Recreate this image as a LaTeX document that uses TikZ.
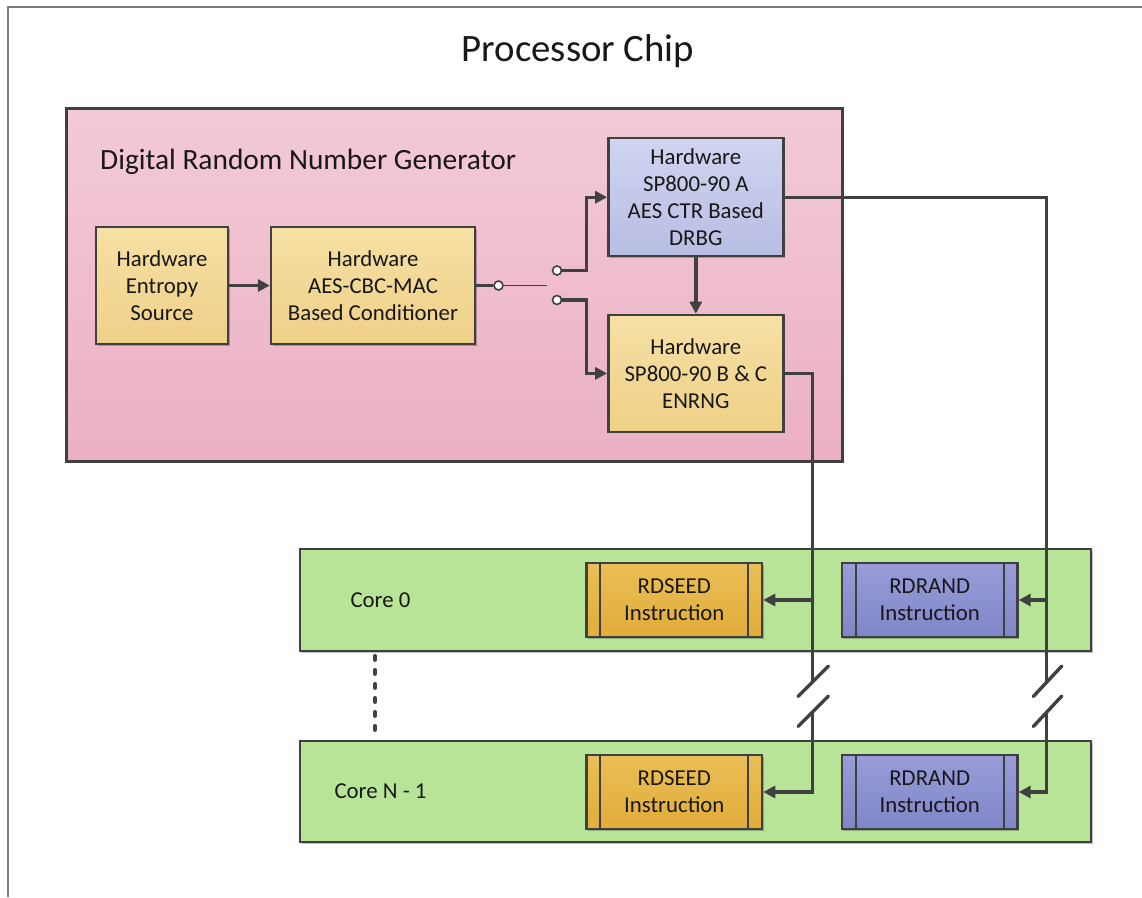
\documentclass[tikz,border=0pt]{standalone}
\usepackage{fontspec}
\setmainfont{Carlito}
\usetikzlibrary{arrows.meta,shadows}

% palette
\definecolor{edge}{RGB}{64,64,64}
\definecolor{ink}{RGB}{24,24,24}
\definecolor{framegray}{RGB}{125,125,125}
\definecolor{pinktop}{RGB}{243,202,214}
\definecolor{pinkbot}{RGB}{235,176,196}
\definecolor{ytop}{RGB}{246,224,164}
\definecolor{ybot}{RGB}{239,208,136}
\definecolor{ltop}{RGB}{208,212,240}
\definecolor{lbot}{RGB}{184,189,227}
\definecolor{coregreen}{RGB}{184,228,151}
\definecolor{gtop}{RGB}{234,190,86}
\definecolor{gbot}{RGB}{225,173,58}
\definecolor{btop}{RGB}{152,157,216}
\definecolor{bbot}{RGB}{128,133,200}

\newcommand{\boxfont}{\fontsize{22.8}{27}\selectfont}
\newcommand{\titlefont}{\fontsize{38.8}{42}\selectfont}
\newcommand{\grpfont}{\fontsize{29.4}{33}\selectfont}

\begin{document}
\begin{tikzpicture}[x=1pt,y=-1pt,
  shade/.style={drop shadow={shadow xshift=1.5pt,shadow yshift=-1.5pt,opacity=0.25,fill=black}},
  blk/.style={draw=edge,line width=2.4pt,inner sep=0pt,align=center,text=ink,font=\boxfont,shade},
  ybox/.style={blk,top color=ytop,bottom color=ybot},
  lbox/.style={blk,top color=ltop,bottom color=lbot},
  gbox/.style={blk,top color=gtop,bottom color=gbot,minimum width=175.5pt,minimum height=74pt},
  bbox/.style={blk,top color=btop,bottom color=bbot,minimum width=175.5pt,minimum height=74pt},
  corebox/.style={draw=edge,line width=2.4pt,fill=coregreen,minimum width=791pt,shade},
  grpbox/.style={draw=edge,line width=3pt,top color=pinktop,bottom color=pinkbot,
    minimum width=776pt,minimum height=353pt,inner sep=0pt,shade},
  port/.style={circle,draw=edge,line width=1.6pt,fill=white,minimum size=9pt,inner sep=0pt},
  conn/.style={draw=edge,line width=3.4pt},
  arr/.style={conn,-{Triangle[length=12pt,width=12pt]}},
  thinwire/.style={draw=edge,line width=1.5pt},
  brk/.style={conn,line cap=round},
  dots/.style={draw=edge,line width=4.5pt,line cap=round,dash pattern=on 3.5pt off 10.5pt},
  frame/.style={draw=framegray,line width=2.5pt},
  lbl/.style={text=ink,inner sep=0pt}
]
\useasboundingbox (0,0) rectangle (1142,897);
\fill[white] (0,0) rectangle (1142,897);

% chip outline (open to the right and bottom)
\draw[frame] (8,897) -- (8,7) -- (1142,7);
\node[lbl,font=\titlefont,anchor=base] (title) at (578,61.5) {Processor Chip};

% DRNG block
\node[grpbox] (drng) at (454,284.5) {};
\node[lbl,font=\grpfont,anchor=base west] (drnglbl) at (100,169) {Digital Random Number Generator};

\node[ybox,minimum width=132pt,minimum height=117pt] (ent) at (162,285.5) {Hardware\\Entropy\\Source};
\node[ybox,minimum width=204pt,minimum height=117pt] (cond) at (373,285.5) {Hardware\\AES-CBC-MAC\\Based Conditioner};
\node[lbox,minimum width=175pt,minimum height=118pt] (drbg) at (695.8,197.2) {Hardware\\SP800-90 A\\AES CTR Based\\DRBG};
\node[ybox,minimum width=175pt,minimum height=117pt] (enr) at (695.8,373.4) {Hardware\\SP800-90 B \& C\\ENRNG};

% switch
\node[port] (p0) at (498.5,285.5) {};
\node[port] (p1) at (557,270.5) {};
\node[port] (p2) at (557,300) {};
\coordinate (swtip) at (547,285.5);
\coordinate (bx) at (586.5,0);

\draw[arr] (ent) -- (cond);
\draw[conn,line width=2.6pt] (cond.east) -- (p0.west);
\draw[thinwire] (p0.east) -- (swtip);
\draw[arr] (p1.east) -- (p1.east -| bx) |- (drbg.west);
\draw[arr] (p2.east) -- (p2.east -| bx) |- (enr.west);
\draw[arr] (drbg) -- (enr);

% cores
\node[corebox,minimum height=102pt] (core0) at (695.5,600) {};
\node[corebox,minimum height=101pt] (coreN) at (695.5,791.5) {};
\node[lbl,font=\boxfont] (c0lbl) at (380.5,600) {Core 0};
\node[lbl,font=\boxfont] (cNlbl) at (380.5,791) {Core N - 1};

\node[gbox] (rs0) at (674.3,600) {RDSEED\\Instruction};
\node[bbox] (rd0) at (929.7,600) {RDRAND\\Instruction};
\node[gbox] (rsN) at (674.3,792) {RDSEED\\Instruction};
\node[bbox] (rdN) at (929.7,792) {RDRAND\\Instruction};

% side bars of the instruction boxes
\foreach \b in {rs0,rd0,rsN,rdN}{
  \draw[draw=edge,line width=2.2pt] ([xshift=15pt]\b.north west) -- ([xshift=15pt]\b.south west);
  \draw[draw=edge,line width=2.2pt] ([xshift=-15pt]\b.north east) -- ([xshift=-15pt]\b.south east);
}

\coordinate (dotx) at (375,0);
\draw[dots] (core0.south -| dotx) ++(0,4) -- ([yshift=4pt]coreN.north -| dotx);

% buses to the cores
\coordinate (sTop) at (812.3,682.4);
\coordinate (sBot) at (812.3,712);
\coordinate (rTop) at (1046.7,682.4);
\coordinate (rBot) at (1046.7,712);

\draw[conn] (enr.east) -| (sTop);
\draw[arr] (sBot) |- (rsN.east);
\draw[arr] (rs0.east -| sTop) -- (rs0.east);
\draw[brk] (798,696.5) -- (828.5,666);
\draw[brk] (798,726.5) -- (828.5,696);

\draw[conn] (drbg.east) -| (rTop);
\draw[arr] (rBot) |- (rdN.east);
\draw[arr] (rd0.east -| rTop) -- (rd0.east);
\draw[brk] (1033.3,696.5) -- (1061.8,666);
\draw[brk] (1033.3,726.5) -- (1061.8,696);
\end{tikzpicture}
\end{document}
